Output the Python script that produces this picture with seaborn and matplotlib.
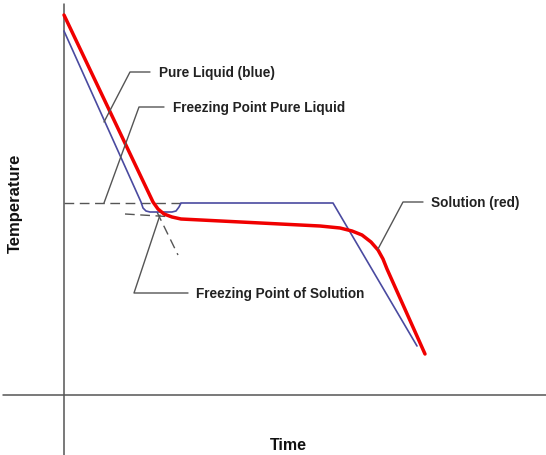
"""
Cooling curves: pure liquid vs solution (freezing point depression sketch)
"""

import pandas as pd
import matplotlib
matplotlib.use("Agg")
import matplotlib.pyplot as plt
import seaborn as sns

# cooling curve of the solution (red), time / temperature in arbitrary units
red_time = [0, 89, 94, 100, 108, 117, 256, 276, 288, 298, 307, 314, 319, 323, 361]
red_temp = [380, 193, 186, 181, 178, 176, 169, 167, 164, 160, 153, 145, 136, 126, 41]

# cooling curve of the pure liquid (blue)
blue_time = [0, 77, 79, 82, 86, 108, 112, 115, 117, 269, 353]
blue_temp = [364, 193, 187, 184, 183, 183, 184, 188, 192, 192, 49]

# dashed construction lines
fp_pure_time = [0, 117]
fp_pure_temp = [192, 192]
fp_sol_time = [61, 111]
fp_sol_temp = [181, 178]
extrap_time = [93, 114]
extrap_temp = [183, 140]

# annotations: label, leader line points, text position
labels = ["Pure Liquid (blue)", "Freezing Point Pure Liquid",
          "Freezing Point of Solution", "Solution (red)"]
leader_time = [[40, 66, 86], [40, 75, 100], [96, 70, 124], [314, 339, 359]]
leader_temp = [[273, 323, 323], [192, 288, 288], [180, 102, 102], [146, 193, 193]]
label_time = [95, 109, 132, 367]
label_temp = [323, 288, 102, 193]

sns.set_style("white")
plt.rcParams['font.family'] = ['Liberation Sans', 'DejaVu Sans']

fig = plt.figure(figsize=(5.46, 4.56), dpi=100)
ax = fig.add_axes([0, 0, 1, 1])
ax.set_xlim(-64, 482)
ax.set_ylim(-60, 396)
ax.axis('off')

grey = '#555555'

# axes lines
ax.plot([0, 0], [-60, 391], color=grey, lw=1.1)
ax.plot([-61, 482], [0, 0], color=grey, lw=1.1)

# construction lines
for t, T in [(fp_pure_time, fp_pure_temp), (fp_sol_time, fp_sol_temp),
             (extrap_time, extrap_temp)]:
    ax.plot(t, T, color=grey, lw=1.0, ls=(0, (7, 4)))

# curves
blue = pd.DataFrame({'time': blue_time, 'temp': blue_temp})
red = pd.DataFrame({'time': red_time, 'temp': red_temp})
sns.lineplot(data=blue, x='time', y='temp', sort=False, estimator=None,
             color='#4a4aa0', lw=1.2, ax=ax)
sns.lineplot(data=red, x='time', y='temp', sort=False, estimator=None,
             color='#f00000', lw=2.5, ax=ax, solid_joinstyle='round')

# leaders and labels
for lab, lt, lT, xt, yt in zip(labels, leader_time, leader_temp, label_time, label_temp):
    ax.plot(lt, lT, color=grey, lw=1.0)
    ax.text(xt, yt, lab, fontsize=9.8, fontweight='bold', color='#222222',
            ha='left', va='center')

ax.text(-49, 193, "Temperature", rotation=90, fontsize=12, fontweight='bold',
        color='#111111', ha='center', va='center')
ax.text(224, -50, "Time", fontsize=11.5, fontweight='bold', color='#111111',
        ha='center', va='center')

ax.set_xlabel('')
ax.set_ylabel('')

plt.savefig('out.png', dpi=100)
